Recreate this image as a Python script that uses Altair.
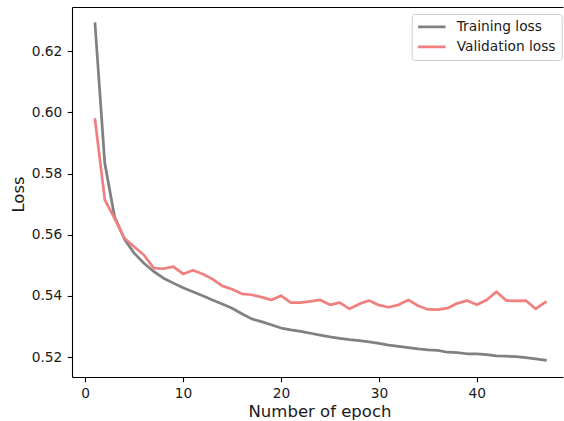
import altair as alt
import pandas as pd

# Loss per epoch for the two curves
epochs = list(range(1, 48))
training_loss = [
    0.6290, 0.5834, 0.5659, 0.5586, 0.5540, 0.5507, 0.5480, 0.5458, 0.5442, 0.5427,
    0.5414, 0.5401, 0.5387, 0.5374, 0.5360, 0.5342, 0.5325, 0.5316, 0.5306, 0.5295,
    0.5289, 0.5284, 0.5278, 0.5272, 0.5266, 0.5261, 0.5257, 0.5254, 0.5250, 0.5245,
    0.5239, 0.5235, 0.5231, 0.5227, 0.5224, 0.5222, 0.5216, 0.5215, 0.5211, 0.5211,
    0.5208, 0.5204, 0.5203, 0.5202, 0.5198, 0.5194, 0.5190,
]
validation_loss = [
    0.5977, 0.5714, 0.5654, 0.5589, 0.5561, 0.5534, 0.5491, 0.5489, 0.5496, 0.5472,
    0.5484, 0.5472, 0.5455, 0.5433, 0.5422, 0.5407, 0.5404, 0.5396, 0.5387, 0.5401,
    0.5378, 0.5378, 0.5382, 0.5387, 0.5371, 0.5378, 0.5358, 0.5374, 0.5385, 0.5370,
    0.5363, 0.5371, 0.5387, 0.5368, 0.5356, 0.5355, 0.5360, 0.5376, 0.5385, 0.5371,
    0.5387, 0.5414, 0.5385, 0.5384, 0.5385, 0.5358, 0.5380,
]
series_names = ["Training loss", "Validation loss"]
series_colors = ["#808080", "#f08080"]
x_ticks = [0, 10, 20, 30, 40]
y_ticks = [0.52, 0.54, 0.56, 0.58, 0.60, 0.62]

df = pd.DataFrame({
    "epoch": epochs + epochs,
    "loss": training_loss + validation_loss,
    "series": [series_names[0]] * len(epochs) + [series_names[1]] * len(epochs),
})

W, H = 491, 370
FONT = "DejaVu Sans"
TEXT = "#1a1a1a"

x_scale = alt.Scale(domain=[-1.35, 48.8], nice=False, zero=False)
y_scale = alt.Scale(domain=[0.5135, 0.6345], nice=False, zero=False)

# Legend handle: a long horizontal stroke drawn from a small symbol size,
# so rows stay as tall as the label text.
color = alt.Color(
    "series:N",
    scale=alt.Scale(domain=series_names, range=series_colors),
    legend=alt.Legend(
        title=None,
        orient="none",
        legendX=339.7,
        legendY=7,
        symbolType="M-2.75,0H2.75",
        symbolSize=100,
        symbolStrokeWidth=2.75,
        symbolOffset=7.25,
        labelFont=FONT,
        labelFontSize=13.75,
        labelColor=TEXT,
        labelOffset=18,
        padding=6,
        rowPadding=5,
        strokeColor="#cccccc",
        fillColor="white",
        cornerRadius=3,
    ),
)

bottom_axis = alt.Axis(
    values=x_ticks,
    format="d",
    grid=False,
    domainColor="black",
    domainWidth=1.1,
    tickColor="black",
    tickWidth=1.1,
    tickSize=4.8,
    labelFont=FONT,
    labelFontSize=13.75,
    labelColor=TEXT,
    labelPadding=5,
    title="Number of epoch",
    titleFont=FONT,
    titleFontSize=16.5,
    titleFontWeight="normal",
    titleColor=TEXT,
    titleX=247.5,
    titleY=39,
    titleBaseline="alphabetic",
    titleAlign="center",
)

top_axis = alt.Axis(
    orient="top",
    labels=False,
    ticks=False,
    grid=False,
    domainColor="black",
    domainWidth=1.1,
    title="",
)

left_axis = alt.Axis(
    values=y_ticks,
    format=".2f",
    grid=False,
    domainColor="black",
    domainWidth=1.1,
    tickColor="black",
    tickWidth=1.1,
    tickSize=4.8,
    labelFont=FONT,
    labelFontSize=13.75,
    labelColor=TEXT,
    labelPadding=5.4,
    title="Loss",
    titleFont=FONT,
    titleFontSize=16.5,
    titleFontWeight="normal",
    titleColor=TEXT,
    titleAngle=270,
    titleX=-49,
    titleY=187,
    titleBaseline="alphabetic",
    titleAlign="center",
)

y_enc = alt.Y("loss:Q", scale=y_scale, axis=left_axis)

base = alt.Chart(df).mark_line(strokeWidth=2.75, strokeCap="square", strokeJoin="round")

train_layer = base.transform_filter(alt.datum.series == series_names[0]).encode(
    x=alt.X("epoch:Q", scale=x_scale, axis=bottom_axis),
    y=y_enc,
    color=color,
)

val_layer = base.transform_filter(alt.datum.series == series_names[1]).encode(
    x=alt.X("epoch:Q", scale=x_scale, axis=top_axis),
    y=y_enc,
    color=color,
)

chart = (
    alt.layer(train_layer, val_layer)
    .resolve_axis(x="independent")
    .properties(
        width=W,
        height=H,
        autosize="none",
        padding={"left": 72, "top": 7, "right": 1, "bottom": 44},
    )
    .configure_view(stroke=None)
)

chart.save("out.html", embed_options={"renderer": "svg", "actions": False})
